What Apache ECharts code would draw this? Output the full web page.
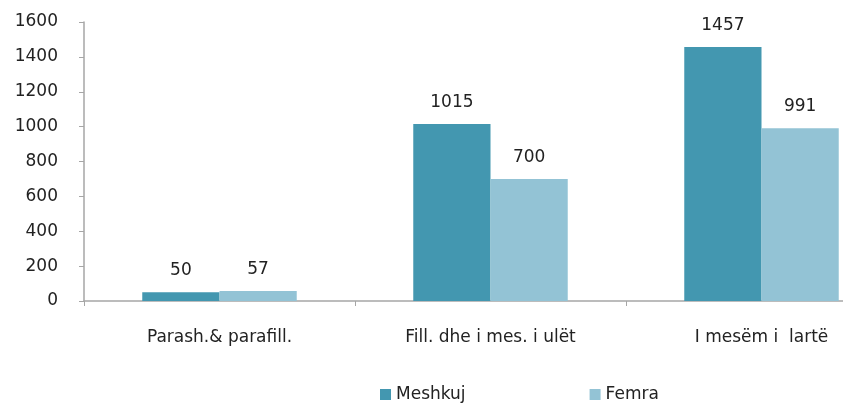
<!DOCTYPE html>
<html>
<head>
<meta charset="utf-8">
<script src="https://cdn.jsdelivr.net/npm/echarts@6/dist/echarts.min.js"></script>
<style>
  html, body { margin: 0; padding: 0; background: #fff; }
  #chart { width: 843px; height: 404px; }
</style>
</head>
<body>
<div id="chart"></div>
<script>
  // categories and values
  var categories = ['Parash.& parafill.', 'Fill. dhe i mes. i ulët', 'I mesëm i  lartë'];
  var meshkuj = [50, 1015, 1457];
  var femra = [57, 700, 991];
  var yTicks = [0, 200, 400, 600, 800, 1000, 1200, 1400, 1600];

  var textColor = '#222';
  var axisColor = '#a6a6a6';
  var font = 'DejaVu Sans, sans-serif';

  var myChart = echarts.init(document.getElementById('chart'));
  myChart.setOption({
    animation: false,
    color: ['#4397b0', '#93c3d5'],
    // the third category runs past the right edge, as in the original
    grid: {left: 84, top: 22, right: -54, bottom: 103, outerBoundsMode: 'none'},
    legend: {
      top: 381,
      left: 375,
      itemWidth: 11,
      itemHeight: 11,
      itemGap: 124,
      icon: 'rect',
      textStyle: {fontSize: 17, color: textColor, fontFamily: font},
      data: ['Meshkuj', 'Femra']
    },
    xAxis: {
      type: 'category',
      data: categories,
      axisLine: {lineStyle: {color: axisColor, width: 1.5}},
      axisTick: {show: true, lineStyle: {color: axisColor}, length: 5},
      axisLabel: {fontSize: 17, color: textColor, fontFamily: font, margin: 28}
    },
    yAxis: {
      type: 'value',
      min: yTicks[0],
      max: yTicks[yTicks.length - 1],
      interval: 200,
      splitLine: {show: false},
      axisLine: {show: true, lineStyle: {color: axisColor, width: 1.5}},
      axisTick: {show: true, length: 5, lineStyle: {color: axisColor}},
      axisLabel: {
        fontSize: 17, color: textColor, fontFamily: font, margin: 26,
        formatter: function (v) { return String(v); }
      }
    },
    series: [
      {
        name: 'Meshkuj',
        type: 'bar',
        data: meshkuj,
        barGap: '0%',
        barCategoryGap: '43%',
        label: {show: true, position: 'top', distance: 13, fontSize: 17, color: textColor, fontFamily: font}
      },
      {
        name: 'Femra',
        type: 'bar',
        data: femra,
        label: {show: true, position: 'top', distance: 13, fontSize: 17, color: textColor, fontFamily: font}
      }
    ]
  });
</script>
</body>
</html>
